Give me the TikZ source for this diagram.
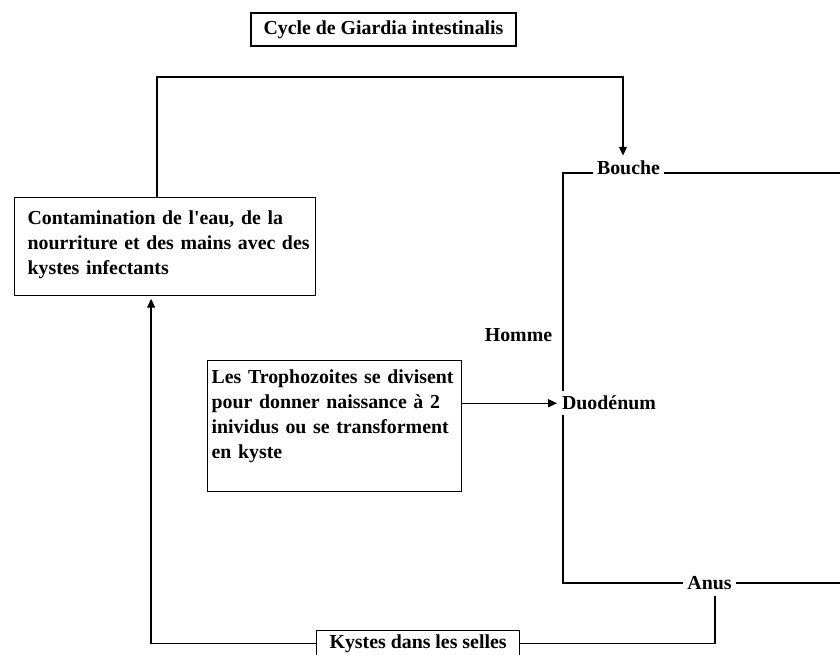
\documentclass[tikz,border=0pt]{standalone}
\usepackage{fontspec}
\setmainfont{Liberation Serif}
\usetikzlibrary{arrows.meta,calc}
\begin{document}
\begin{tikzpicture}[x=0.02cm,y=-0.02cm,line width=0.7pt,
	>={Triangle[length=5pt,width=4.5pt]},
	font=\fontsize{11.3}{14.2}\selectfont\bfseries]
			\useasboundingbox (0,0) rectangle (840,655);
			\coordinate (tl) at (563,173);
			\coordinate (tr) at (840,173);
			\coordinate (bl) at (563,583);
			\coordinate (br) at (840,583);
			\coordinate (up) at (157,77);
			\draw (tr) -- (tl) -- (bl) -- (br);
			
			\begin{scope}[every node/.style={rectangle,draw,inner sep=0pt}]
			\node (title) at (383.5,29.5) [minimum width=5.3cm,minimum height=0.66cm]{Cycle de Giardia intestinalis};
			\node (contam) at (14,197) [anchor=north west,align=left,text width=5.5cm,inner xsep=0.26cm,
				text height=0.54cm,text depth=1.42cm]{\mbox{Contamination de l\textquotesingle eau, de la}\\\mbox{nourriture et des mains avec des}\\kystes infectants};
			\node (tropho) at (207,360) [anchor=north west,align=left,text width=4.92cm,inner xsep=0.08cm,
				text height=0.46cm,text depth=2.16cm]{\mbox{Les Trophozoites se divisent}\\pour donner naissance à 2\\\mbox{inividus ou se transforment}\\en kyste};
			\node (kystes) at (316,630) [anchor=north west,minimum width=4.06cm,text height=0.36cm,text depth=0.16cm]{Kystes dans les selles};
			\end{scope}
			
			\begin{scope}[every node/.style={fill=white,inner xsep=0.09cm,inner ysep=0.1cm}]
			\node (bouche) at (628.5,175) [anchor=base]{Bouche};
			\node (anus) at (709.5,590) [anchor=base]{Anus};
			\node (duodenum) at (557,410) [anchor=base west]{Duodénum};
			\node (homme) at (518.5,342) [anchor=base]{Homme};
			\end{scope}
			
			\draw[->] (contam.north -| up) -- (up) -| ($(bouche.north)+(-5.5,0)$);
			\draw[->] (tropho.east |- duodenum.west) -- (duodenum.west);
			\draw (kystes.east) -| ($(anus.south)+(5.5,0)$);
			\draw[->,shorten >=1.5pt] (kystes.west) -| ($(contam.south)+(-14,0)$);
			\end{tikzpicture}
\end{document}
